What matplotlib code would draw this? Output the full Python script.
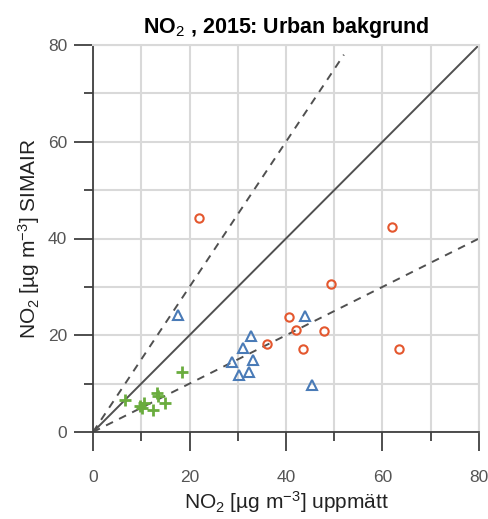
import matplotlib
matplotlib.use("Agg")
import matplotlib.pyplot as plt
from matplotlib.ticker import MultipleLocator

plt.rcParams['font.family'] = ['Liberation Sans', 'DejaVu Sans']
plt.rcParams['mathtext.fontset'] = 'custom'
plt.rcParams['mathtext.rm'] = 'Liberation Sans'
plt.rcParams['mathtext.it'] = 'Liberation Sans:italic'
plt.rcParams['mathtext.bf'] = 'Liberation Sans:bold'

# measured (x) vs SIMAIR (y), urban background stations
red_x = [22.0, 62.0, 49.3, 40.7, 42.1, 47.9, 36.0, 43.6, 63.4]
red_y = [44.3, 42.4, 30.6, 23.8, 21.1, 20.9, 18.2, 17.1, 17.1]

blue_x = [17.6, 43.9, 32.7, 31.0, 28.9, 33.2, 30.2, 32.4, 45.3]
blue_y = [24.1, 24.0, 19.8, 17.4, 14.5, 14.9, 11.8, 12.3, 9.7]

green_x = [6.6, 9.8, 10.5, 10.2, 13.2, 13.5, 12.5, 14.9, 18.4]
green_y = [6.6, 5.4, 5.9, 5.0, 8.1, 7.4, 4.5, 5.9, 12.5]

ticks = [0, 20, 40, 60, 80]

fig = plt.figure(figsize=(4.89, 5.19), dpi=100)
ax = fig.add_axes([93/489, 1 - 432/519, 386/489, 387/519])

ax.set_xlim(0, 80)
ax.set_ylim(0, 80)
ax.set_xticks(ticks)
ax.set_yticks(ticks)
ax.xaxis.set_minor_locator(MultipleLocator(10))
ax.yaxis.set_minor_locator(MultipleLocator(10))
ax.grid(True, which='both', color='#d9d9d9', lw=1.5, zorder=0)
ax.set_axisbelow(True)

# 1:1 and 1.5:1 / 0.5:1 guide lines
ax.plot([0, 80], [0, 80], color='#505050', lw=1.4, zorder=2)
ax.plot([0, 52], [0, 78], color='#505050', lw=1.4, dashes=(4, 3.5), zorder=2)
ax.plot([0, 80], [0, 40], color='#505050', lw=1.4, dashes=(4, 3.5), zorder=2)

ax.plot(green_x, green_y, '+', color='#6aac3e', ms=8, mew=2, zorder=3, clip_on=False)
ax.plot(blue_x, blue_y, '^', mfc='none', mec='#4a7bb7', ms=7, mew=1.5, zorder=3)
ax.plot(red_x, red_y, 'o', mfc='none', mec='#e4572e', ms=6, mew=1.5, zorder=3)

for s in ['top', 'right']:
    ax.spines[s].set_color('#d9d9d9')
    ax.spines[s].set_linewidth(1.5)
for s in ['left', 'bottom']:
    ax.spines[s].set_color('#404040')
    ax.spines[s].set_linewidth(1.3)

ax.tick_params(which='major', direction='out', length=13.5, width=1.3, color='#404040',
               labelsize=12.5, labelcolor='#555555')
ax.tick_params(which='minor', direction='out', length=6.5, width=1.3, color='#404040')
ax.tick_params(axis='x', which='major', pad=14)
ax.tick_params(axis='y', which='major', pad=5)

ax.set_xlabel('NO$_2$ [µg m$^{-3}$] uppmätt', fontsize=15, color='#222222', labelpad=3)
ax.set_ylabel('NO$_2$ [µg m$^{-3}$] SIMAIR', fontsize=15, color='#222222', labelpad=4)
ax.set_title('NO$_2$ , 2015: Urban bakgrund', fontsize=15.5, fontweight='bold', pad=9)

plt.savefig('out.png', dpi=100)
